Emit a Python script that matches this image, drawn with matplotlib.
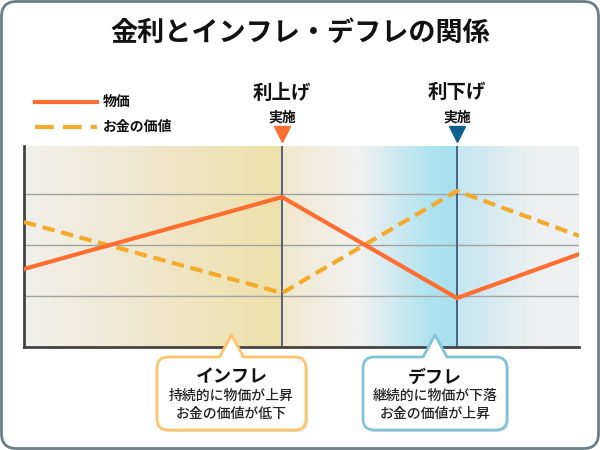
import numpy as np
import matplotlib
matplotlib.use('Agg')
import matplotlib.pyplot as plt
from matplotlib.path import Path
from matplotlib.patches import PathPatch
from matplotlib.lines import Line2D
from matplotlib.transforms import Affine2D
import matplotlib.colors as mcolors

plt.rcParams['font.family'] = ['Noto Sans CJK JP', 'DejaVu Sans']

# data
x_points = [0, 4.65, 7.8, 10]
price = [1.53, 2.94, 0.96, 1.82]
money_value = [2.45, 1.06, 3.06, 2.18]
series_labels = ['物価', 'お金の価値']
event_x = [4.65, 7.8]
event_titles = ['利上げ', '利下げ']
event_sub = '実施'
title = '金利とインフレ・デフレの関係'
callouts = [
    ('インフレ', ['持続的に物価が上昇', 'お金の価値が低下']),
    ('デフレ', ['継続的に物価が下落', 'お金の価値が上昇']),
]

ORANGE = '#ff6e30'
AMBER = '#f4aa2a'
BLUE_MARK = '#0f5f8e'
FRAME = '#6b7e85'

fig = plt.figure(figsize=(6, 4.5), dpi=100)
fig.patch.set_facecolor('white')
# pixel coordinates, origin top-left
T = Affine2D().scale(1, -1).translate(0, 450).scale(0.01) + fig.dpi_scale_trans


def rounded_path(x0, y0, x1, y1, r, notch=None):
    verts = [(x0 + r, y0)]
    codes = [Path.MOVETO]
    if notch is not None:
        ax_, ay_, half = notch
        verts += [(ax_ - half, y0), (ax_, ay_), (ax_ + half, y0)]
        codes += [Path.LINETO] * 3
    verts += [(x1 - r, y0), (x1, y0), (x1, y0 + r),
              (x1, y1 - r), (x1, y1), (x1 - r, y1),
              (x0 + r, y1), (x0, y1), (x0, y1 - r),
              (x0, y0 + r), (x0, y0), (x0 + r, y0), (x0 + r, y0)]
    codes += [Path.LINETO, Path.CURVE3, Path.CURVE3,
              Path.LINETO, Path.CURVE3, Path.CURVE3,
              Path.LINETO, Path.CURVE3, Path.CURVE3,
              Path.LINETO, Path.CURVE3, Path.CURVE3, Path.CLOSEPOLY]
    return Path(verts, codes)


# outer frame
fig.add_artist(PathPatch(rounded_path(1.5, 1.5, 598.5, 448.5, 15), transform=T,
                         facecolor='white', edgecolor=FRAME, lw=2.0, zorder=-5))

fig.text(300, 33, title, transform=T, ha='center', va='center',
         fontsize=19.5, fontweight='bold', color='#111111')

ax = fig.add_axes([24 / 600, 1 - 347 / 450, 555 / 600, 201 / 450])
ymax = 201 / 51
ax.set_xlim(0, 10)
ax.set_ylim(0, ymax)

# background gradient
stops = [0, 2.3, 4.64, 4.66, 5.9, 6.05, 7.3, 7.79, 7.81, 9.2, 10]
stop_cols = ['#f1f0ec', '#efe7cc', '#f0e0a9', '#f0e8cc', '#f1f1f0', '#f1f1f1',
             '#b0e3f0', '#a8e0ee', '#c3e6f0', '#eef0f1', '#eef0f1']
rgb = np.array([mcolors.to_rgb(c) for c in stop_cols])
xs = np.linspace(0, 10, 800)
grad = np.stack([np.interp(xs, stops, rgb[:, i]) for i in range(3)], axis=-1)[None, :, :]
ax.imshow(grad, extent=[0, 10, 0, ymax], aspect='auto', zorder=0, interpolation='bilinear')

for g in [1, 2, 3]:
    ax.axhline(g, color='#a3a3a0', lw=1, zorder=1)

for ex in event_x:
    ax.axvline(ex, color='#4d6284', lw=1.4, zorder=2)

ax.plot(x_points, price, color=ORANGE, lw=3, zorder=4, solid_joinstyle='miter')
ax.plot(x_points, money_value, color=AMBER, lw=3, ls=(0, (3, 1.6)), zorder=3)

for s in ['top', 'right']:
    ax.spines[s].set_visible(False)
for s in ['left', 'bottom']:
    ax.spines[s].set_color('#444444')
    ax.spines[s].set_linewidth(2)
ax.set_xticks([])
ax.set_yticks([])

# event markers
bt = ax.get_xaxis_transform()
for ex, et, mc in zip(event_x, event_titles, [ORANGE, BLUE_MARK]):
    ax.plot([ex], [1.058], marker='v', ms=12, color=mc, transform=bt, clip_on=False, zorder=5)
    ax.text(ex, 1.264, et, transform=bt, ha='center', va='center',
            fontsize=14, fontweight='bold', color='#111111')
    ax.text(ex, 1.144, event_sub, transform=bt, ha='center', va='center',
            fontsize=10, fontweight='bold', color='#111111')

# legend
fig.add_artist(Line2D([35, 97], [102, 102], transform=T, color=ORANGE, lw=3))
fig.add_artist(Line2D([35, 97], [127, 127], transform=T, color=AMBER, lw=3, ls=(0, (4.5, 2.2))))
fig.text(103, 102, series_labels[0], transform=T, ha='left', va='center',
         fontsize=10, fontweight='bold', color='#111111')
fig.text(103, 127, series_labels[1], transform=T, ha='left', va='center',
         fontsize=10, fontweight='bold', color='#111111')

# callouts
boxes = [(157, 306, '#ffc46e'), (363, 507, '#7fc4d9')]
for (head, lines), (bx0, bx1, ec), ex in zip(callouts, boxes, event_x):
    cx = (bx0 + bx1) / 2
    shadow = rounded_path(bx0 + 2, 359, bx1 + 2, 432, 11, notch=(cx + 2, 337, 12))
    fig.add_artist(PathPatch(shadow, transform=T, facecolor='#000000', alpha=0.12,
                             edgecolor='none', zorder=6))
    p = rounded_path(bx0, 357, bx1, 430, 11, notch=(cx, 335, 12))
    fig.add_artist(PathPatch(p, transform=T, facecolor='white', edgecolor=ec,
                             lw=2.0, zorder=7, joinstyle='round'))
    fig.text(cx, 377, head, transform=T, ha='center', va='center',
             fontsize=13, fontweight='bold', color='#111111', zorder=8)
    for i, ln in enumerate(lines):
        fig.text(cx, 396 + 18 * i, ln, transform=T, ha='center', va='center',
                 fontsize=10, fontweight='medium', color='#222222', zorder=8)

fig.savefig('out.png', dpi=100, facecolor='white')
